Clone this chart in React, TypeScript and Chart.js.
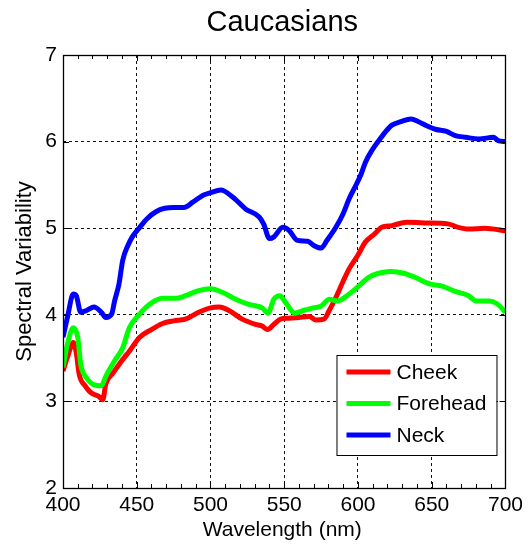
import React, { useEffect, useRef } from "react";
import { Chart, registerables } from "chart.js";

Chart.register(...registerables);

const chartTitle = "Caucasians";
const xTitle = "Wavelength (nm)";
const yTitle = "Spectral Variability";
const seriesLabels = ["Cheek", "Forehead", "Neck"];
const seriesColors = ["#ff0000", "#00ff00", "#0000ff"];
const xMin = 400;
const xMax = 700;
const xStep = 50;
const xMinorStep = 10;
const yMin = 2;
const yMax = 7;
const yStep = 1;

const cheekNm = [400, 403, 407, 409, 411, 415, 419, 424, 427, 429, 434, 439, 445, 452, 460, 467.5, 475, 483, 492, 500, 506, 512.5, 521.5, 530.5, 535, 538.5, 543, 547.5, 553, 560, 567, 571.5, 577, 580.5, 585, 590, 594, 600, 605, 611, 616, 623, 633, 645, 661, 668, 675, 686, 700];
const cheekVal = [3.35, 3.51, 3.68, 3.56, 3.31, 3.18, 3.10, 3.06, 3.02, 3.20, 3.33, 3.45, 3.58, 3.74, 3.83, 3.90, 3.93, 3.95, 4.03, 4.08, 4.09, 4.05, 3.95, 3.89, 3.87, 3.83, 3.89, 3.95, 3.96, 3.97, 3.98, 3.94, 3.95, 4.05, 4.20, 4.39, 4.53, 4.69, 4.84, 4.93, 5.01, 5.03, 5.07, 5.06, 5.05, 5.01, 4.99, 5.00, 4.97];

const foreheadNm = [400, 403, 407, 410, 412, 416, 420, 426, 429, 435, 440.5, 445, 452, 458.5, 467.5, 476.5, 483, 492, 500, 508, 517, 526, 535, 539, 543, 547, 551, 557, 563, 569.5, 575, 580.5, 586, 594, 601, 607, 614, 622, 631, 639, 648, 657, 666, 675, 680, 689, 694, 700];
const foreheadVal = [3.39, 3.66, 3.85, 3.74, 3.43, 3.27, 3.20, 3.18, 3.29, 3.47, 3.62, 3.85, 4.01, 4.12, 4.19, 4.19, 4.22, 4.28, 4.30, 4.26, 4.18, 4.12, 4.08, 4.02, 4.18, 4.22, 4.14, 4.02, 4.05, 4.08, 4.10, 4.18, 4.16, 4.24, 4.34, 4.43, 4.48, 4.50, 4.48, 4.43, 4.36, 4.33, 4.27, 4.22, 4.16, 4.16, 4.13, 4.03];

const neckNm = [400, 403, 407, 409, 412, 416, 421, 426, 429, 433, 435, 438, 440.5, 444, 447, 452, 457, 463, 469, 475, 482, 488, 495, 500, 507, 515, 524, 533, 536, 540, 543, 549, 553, 559, 566, 570, 575, 579, 585, 590, 594, 599, 602, 605, 609.5, 614, 618.5, 623, 629, 636, 641, 647, 653, 659.5, 666, 673, 682, 692, 695, 700];
const neckVal = [3.74, 3.97, 4.24, 4.22, 4.03, 4.05, 4.09, 4.03, 3.97, 4.01, 4.16, 4.36, 4.63, 4.80, 4.90, 5.01, 5.11, 5.19, 5.23, 5.24, 5.24, 5.30, 5.38, 5.41, 5.44, 5.36, 5.22, 5.13, 5.05, 4.88, 4.90, 5.01, 4.98, 4.86, 4.85, 4.80, 4.77, 4.86, 5.01, 5.17, 5.34, 5.51, 5.62, 5.76, 5.90, 6.01, 6.11, 6.19, 6.23, 6.26, 6.23, 6.18, 6.14, 6.12, 6.07, 6.05, 6.03, 6.05, 6.01, 6.00];

const FONT = '"Liberation Sans", Arial, Helvetica, sans-serif';

export default function App() {
  const ref = useRef<HTMLCanvasElement | null>(null);

  useEffect(() => {
    if (!ref.current) return;
    const toPts = (xs: number[], ys: number[]) => xs.map((x, i) => ({ x, y: ys[i] }));
    const seriesData = [toPts(cheekNm, cheekVal), toPts(foreheadNm, foreheadVal), toPts(neckNm, neckVal)];

    const overlay = {
      id: "overlay",
      afterDatasetsDraw(chart: any) {
        const { ctx, chartArea: a, scales } = chart;
        const xs = scales.x;
        const ys = scales.y;
        ctx.save();
        ctx.setLineDash([]);
        ctx.strokeStyle = "#000";
        ctx.lineWidth = 1;
        const line = (x1: number, y1: number, x2: number, y2: number) => {
          ctx.beginPath();
          ctx.moveTo(x1, y1);
          ctx.lineTo(x2, y2);
          ctx.stroke();
        };
        for (let v = xMin; v <= xMax; v += xMinorStep) {
          const px = Math.round(xs.getPixelForValue(v)) + 0.5;
          const len = v % xStep === 0 ? 6 : 4;
          line(px, a.bottom, px, a.bottom - len);
          line(px, a.top, px, a.top + len);
        }
        for (let v = yMin; v <= yMax; v += yStep) {
          const py = Math.round(ys.getPixelForValue(v)) + 0.5;
          line(a.left, py, a.left + 6, py);
          line(a.right, py, a.right - 6, py);
        }
        ctx.lineWidth = 1.3;
        ctx.strokeRect(Math.round(a.left) + 0.5, Math.round(a.top) + 0.5, Math.round(a.right - a.left), Math.round(a.bottom - a.top));

        ctx.fillStyle = "#000";
        ctx.textAlign = "center";
        ctx.textBaseline = "middle";
        ctx.font = `29px ${FONT}`;
        ctx.fillText(chartTitle, (a.left + a.right) / 2 - 2, 23);
        ctx.font = `21px ${FONT}`;
        ctx.fillText(xTitle, (a.left + a.right) / 2 - 2, 530);
        ctx.save();
        ctx.translate(25, (a.top + a.bottom) / 2);
        ctx.rotate(-Math.PI / 2);
        ctx.font = `22px ${FONT}`;
        ctx.fillText(yTitle, 0, 0);
        ctx.restore();

        const bx = a.right - 169;
        const by = a.bottom - 133;
        const bw = 160;
        const bh = 100;
        ctx.fillStyle = "#fff";
        ctx.fillRect(bx, by, bw, bh);
        ctx.lineWidth = 1;
        ctx.strokeStyle = "#000";
        ctx.strokeRect(bx + 0.5, by + 0.5, bw, bh);
        ctx.textAlign = "left";
        ctx.textBaseline = "middle";
        ctx.font = `21px ${FONT}`;
        seriesLabels.forEach((lab, i) => {
          const ly = by + 17 + i * 31.5;
          ctx.strokeStyle = seriesColors[i];
          ctx.lineWidth = 5;
          line(bx + 10, ly, bx + 54, ly);
          ctx.fillStyle = "#000";
          ctx.fillText(lab, bx + 60, ly + 1);
        });
        ctx.restore();
      },
    };

    const chart = new Chart(ref.current, {
      type: "line",
      data: {
        datasets: seriesLabels.map((lab, i) => ({
          label: lab,
          data: seriesData[i],
          borderColor: seriesColors[i],
          backgroundColor: seriesColors[i],
          borderWidth: 5,
          pointRadius: 0,
          fill: false,
          cubicInterpolationMode: "monotone" as const,
          order: 3 - i,
        })),
      },
      options: {
        animation: false,
        responsive: false,
        devicePixelRatio: 1,
        parsing: false as any,
        layout: { padding: { top: 55, right: 20, left: 0, bottom: 0 } },
        plugins: {
          legend: { display: false },
          title: { display: false },
          tooltip: { enabled: false },
        },
        scales: {
          x: {
            type: "linear",
            min: xMin,
            max: xMax,
            ticks: {
              stepSize: xStep,
              color: "#000",
              font: { family: FONT, size: 21 },
              padding: 5,
              maxRotation: 0,
              autoSkip: false,
            },
            grid: { color: "#111", lineWidth: 1, drawTicks: false },
            border: { display: false, dash: [3, 3] },
            afterFit: (s: any) => {
              s.height = 58;
            },
          },
          y: {
            type: "linear",
            min: yMin,
            max: yMax,
            ticks: {
              stepSize: yStep,
              color: "#000",
              font: { family: FONT, size: 21 },
              padding: 6,
            },
            grid: { color: "#111", lineWidth: 1, drawTicks: false },
            border: { display: false, dash: [3, 3] },
            afterFit: (s: any) => {
              s.width = 63;
            },
          },
        },
      },
      plugins: [overlay],
    });
    return () => chart.destroy();
  }, []);

  return (
    <div style={{ position: "fixed", left: 0, top: 0, width: 528, height: 546, background: "#fff" }}>
      <canvas ref={ref} width={528} height={546} style={{ width: 528, height: 546, display: "block" }} />
    </div>
  );
}
